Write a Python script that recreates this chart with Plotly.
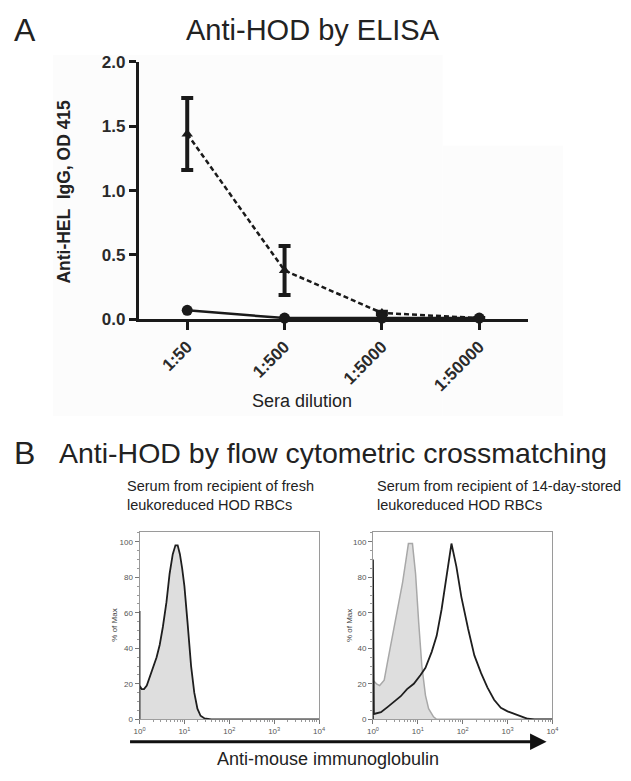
import plotly.graph_objects as go

# ---------------- data ----------------
dilutions = ["1:50", "1:500", "1:5000", "1:50000"]
stored_mean = [1.44, 0.38, 0.05, 0.01]
stored_err = [0.28, 0.19, 0.01, 0.0]
fresh_mean = [0.07, 0.01, 0.01, 0.01]
elisa_yticks = [0.0, 0.5, 1.0, 1.5, 2.0]

# flow histograms (fluorescence, % of max)
fresh_x = [1.0, 1.0, 1.0, 1.12, 1.26, 1.45, 1.70, 2.0, 2.4, 2.82, 3.31, 3.98, 4.68, 5.5, 6.31,
           7.08, 7.94, 8.91, 10.0, 11.7, 14.1, 16.6, 19.5, 22.9, 28.2, 39.8, 10000]
fresh_y = [0, 61, 19, 17, 17, 19, 24, 28, 35, 42, 52, 66, 82, 93, 98,
           98, 93, 85, 75, 55, 30, 15, 6, 2, 0.5, 0, 0]

ctrl_x = [1.0, 1.2, 1.41, 1.78, 2.14, 2.75, 3.55, 4.57, 5.62, 6.17, 7.59, 8.91, 10.5, 12.3,
          14.8, 17.4, 22.4, 26.3, 10000]
ctrl_y = [22, 20, 19, 22, 33, 48, 62, 77, 92, 99, 99, 82, 54, 30,
          13.5, 6, 1.4, 0, 0]

stored_x = [1.0, 1.0, 1.05, 1.51, 2.14, 2.95, 4.17, 5.75, 8.13, 11.5, 14.8, 20.4, 26.3, 33.9,
            43.7, 56.2, 72.4, 93.3, 132, 182, 257, 355, 501, 708, 1000, 1413, 1995, 2818,
            3981, 10000]
stored_y = [0, 90, 3, 4, 7, 10, 13, 17, 20, 25, 29, 38, 47, 62,
            81, 99, 86, 69, 51, 36, 26, 18, 11, 6.5, 4.5, 3, 1.5, 0.3,
            0, 0]

flow_xticks = [1, 10, 100, 1000, 10000]
flow_xticktext = ["10<sup>0</sup>", "10<sup>1</sup>", "10<sup>2</sup>", "10<sup>3</sup>", "10<sup>4</sup>"]
flow_yticks = [0, 20, 40, 60, 80, 100]

# page is 631x781; the html body keeps an 8px margin, so the figure starts at (8, 8)
PAGE_W, PAGE_H, BODY = 631, 781, 8
W, H = PAGE_W - BODY, PAGE_H - BODY
FONT = "Liberation Sans, Arial, Helvetica, sans-serif"


def px(x):
    return (x - BODY) / W


def py(y):
    return 1 - (y - BODY) / H


fig = go.Figure()

# ---------------- panel A ----------------
fig.add_trace(go.Scatter(
    x=dilutions, y=stored_mean, mode="lines+markers",
    line=dict(color="#1a1a1a", width=2.5, dash="5px,3px"),
    marker=dict(symbol="triangle-up", size=10, color="#1a1a1a"),
    error_y=dict(type="data", array=stored_err, thickness=4, width=6, color="#1a1a1a"),
    xaxis="x", yaxis="y", cliponaxis=False, showlegend=False))
fig.add_trace(go.Scatter(
    x=dilutions, y=fresh_mean, mode="lines+markers",
    line=dict(color="#1a1a1a", width=2.5),
    marker=dict(symbol="circle", size=11, color="#1a1a1a"),
    xaxis="x", yaxis="y", cliponaxis=False, showlegend=False))

# ---------------- panel B ----------------
fig.add_trace(go.Scatter(
    x=fresh_x, y=fresh_y, mode="lines", fill="tozeroy", fillcolor="#dedede",
    line=dict(color="#1e1e1e", width=1.8), xaxis="x2", yaxis="y2", showlegend=False))
fig.add_trace(go.Scatter(
    x=ctrl_x, y=ctrl_y, mode="lines", fill="tozeroy", fillcolor="#dedede",
    line=dict(color="#a8a8a8", width=1.5), xaxis="x3", yaxis="y3", showlegend=False))
fig.add_trace(go.Scatter(
    x=stored_x, y=stored_y, mode="lines",
    line=dict(color="#1e1e1e", width=1.8), xaxis="x3", yaxis="y3", showlegend=False))

boldtick = dict(family=FONT, size=17, color="#2a2a2a", weight=700)

flow_x_common = dict(
    type="log", range=[0, 4], tickvals=flow_xticks, ticktext=flow_xticktext,
    showline=True, linecolor="#9a9a9a", linewidth=1, mirror=True, layer="below traces",
    ticks="outside", ticklen=4, tickcolor="#777", tickwidth=1,
    minor=dict(ticks="outside", ticklen=2, tickcolor="#999", dtick="D1"),
    tickfont=dict(family=FONT, size=8, color="#555"), showgrid=False, zeroline=False)
flow_y_common = dict(
    range=[0, 105.5], tickvals=flow_yticks,
    showline=True, linecolor="#9a9a9a", linewidth=1, mirror=True, layer="below traces",
    ticks="outside", ticklen=4, tickcolor="#777", tickwidth=1,
    minor=dict(ticks="outside", ticklen=2, tickcolor="#999", dtick=5),
    tickfont=dict(family=FONT, size=8, color="#555"), showgrid=False, zeroline=False)

fig.update_layout(
    width=W, height=H, margin=dict(l=0, r=0, t=0, b=0),
    paper_bgcolor="white", plot_bgcolor="rgba(0,0,0,0)",
    font=dict(family=FONT, color="#222"),
    xaxis=dict(domain=[px(135), px(532)], type="category", range=[-0.5, 3.5],
               showline=True, linecolor="#1a1a1a", linewidth=2.5,
               ticks="outside", ticklen=8, tickwidth=2.5, tickcolor="#1a1a1a",
               tickangle=-45, tickfont=boldtick, showgrid=False, zeroline=False,
               anchor="y"),
    yaxis=dict(domain=[py(318), py(54)], range=[0, 2.0], tickvals=elisa_yticks,
               tickformat=".1f", showline=True, linecolor="#1a1a1a", linewidth=2.5,
               ticks="outside", ticklen=7, tickwidth=2.5, tickcolor="#1a1a1a",
               tickfont=boldtick, showgrid=False, zeroline=False, anchor="x"),
    xaxis2=dict(domain=[px(136), px(319)], anchor="y2", **flow_x_common),
    yaxis2=dict(domain=[py(728), py(536)], anchor="x2", **flow_y_common),
    xaxis3=dict(domain=[px(374), px(557)], anchor="y3", **flow_x_common),
    yaxis3=dict(domain=[py(728), py(536)], anchor="x3", **flow_y_common),
)

# very faint background of panel A (as in the scanned figure)
fig.add_shape(type="rect", xref="paper", yref="paper", layer="below",
              x0=px(48), x1=px(445), y0=py(417), y1=py(47),
              fillcolor="#fcfcfc", line=dict(width=0))
fig.add_shape(type="rect", xref="paper", yref="paper", layer="below",
              x0=px(445), x1=px(568), y0=py(417), y1=py(140),
              fillcolor="#fcfcfc", line=dict(width=0))

ann = []


def add_text(text, x, y, size, xanchor="center", yanchor="middle", angle=0, weight=400,
             color="#222", align="center"):
    ann.append(dict(text=text, x=px(x), y=py(y), xref="paper", yref="paper",
                    xanchor=xanchor, yanchor=yanchor, showarrow=False, textangle=angle,
                    align=align,
                    font=dict(family=FONT, size=size, color=color, weight=weight)))


add_text("A", 6, 21, 32, xanchor="left")
add_text("Anti-HOD by ELISA", 313, 21, 29)
add_text("Anti-HEL  IgG, OD 415", 59, 187, 17.5, angle=-90, weight=700)
add_text("Sera dilution", 302, 402, 18)
add_text("B", 6, 455, 32, xanchor="left")
add_text("Anti-HOD by flow cytometric crossmatching", 52, 455, 28.5, xanchor="left")
add_text("Serum from recipient of fresh<br>leukoreduced HOD RBCs", 121, 499, 14.5,
         xanchor="left", align="left")
add_text("Serum from recipient of 14-day-stored<br>leukoreduced HOD RBCs", 376, 499, 14.5,
         xanchor="left", align="left")
add_text("% of Max", 111, 632, 8, angle=-90, color="#444")
add_text("% of Max", 350, 632, 8, angle=-90, color="#444")
add_text("Anti-mouse immunoglobulin", 328, 769, 18)

# arrow along the bottom
ann.append(dict(x=px(551), y=py(751), xref="paper", yref="paper",
                ax=-(551 - 133), ay=0, axref="pixel", ayref="pixel",
                showarrow=True, arrowhead=2, arrowsize=1.1, arrowwidth=3,
                arrowcolor="#111", text=""))

fig.update_layout(annotations=ann)

fig.write_html("out.html")
